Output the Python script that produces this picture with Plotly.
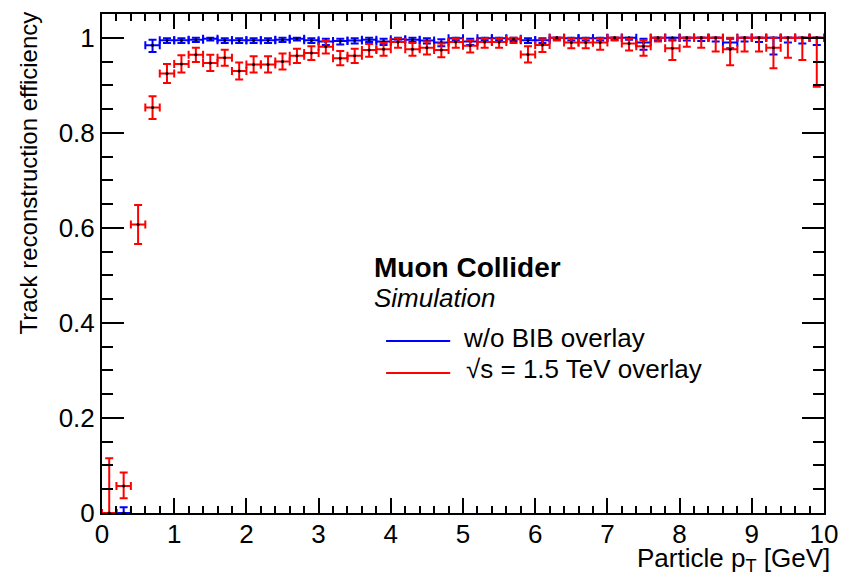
import plotly.graph_objects as go

# ---- data ----
pt_bins = [0.1, 0.3, 0.5, 0.7, 0.9, 1.1, 1.3, 1.5, 1.7, 1.9,
           2.1, 2.3, 2.5, 2.7, 2.9, 3.1, 3.3, 3.5, 3.7, 3.9,
           4.1, 4.3, 4.5, 4.7, 4.9, 5.1, 5.3, 5.5, 5.7, 5.9,
           6.1, 6.3, 6.5, 6.7, 6.9, 7.1, 7.3, 7.5, 7.7, 7.9,
           8.1, 8.3, 8.5, 8.7, 8.9, 9.1, 9.3, 9.5, 9.7, 9.9]
bin_half_width = [0.1] * 50

eff_bib = [0.0, 0.057, 0.607, 0.853, 0.925, 0.945, 0.964, 0.947, 0.958, 0.930,
           0.944, 0.944, 0.950, 0.962, 0.968, 0.981, 0.957, 0.962, 0.974, 0.976,
           0.991, 0.976, 0.979, 0.974, 0.991, 0.983, 0.991, 0.991, 0.997, 0.965,
           0.985, 1.0, 0.990, 0.990, 0.990, 1.0, 0.988, 0.982, 1.0, 0.978,
           1.0, 1.0, 1.0, 0.976, 1.0, 1.0, 0.979, 1.0, 1.0, 1.0]
err_bib_up = [0.115, 0.028, 0.041, 0.024, 0.020, 0.018, 0.015, 0.017, 0.017, 0.018,
              0.017, 0.017, 0.017, 0.015, 0.014, 0.012, 0.015, 0.015, 0.013, 0.013,
              0.008, 0.013, 0.013, 0.014, 0.008, 0.012, 0.008, 0.008, 0.003, 0.017,
              0.012, 0.0, 0.009, 0.009, 0.009, 0.0, 0.010, 0.013, 0.0, 0.018,
              0.0, 0.0, 0.0, 0.024, 0.0, 0.0, 0.021, 0.0, 0.0, 0.0]
err_bib_dn = [0.0, 0.026, 0.041, 0.024, 0.020, 0.018, 0.015, 0.017, 0.017, 0.018,
              0.017, 0.017, 0.017, 0.015, 0.015, 0.014, 0.015, 0.015, 0.014, 0.014,
              0.012, 0.014, 0.014, 0.015, 0.012, 0.014, 0.012, 0.012, 0.008, 0.017,
              0.015, 0.006, 0.012, 0.012, 0.015, 0.006, 0.015, 0.020, 0.008, 0.025,
              0.019, 0.021, 0.029, 0.034, 0.029, 0.029, 0.043, 0.042, 0.047, 0.103]

eff_nobib = [None, 0.0, None, 0.984, 0.995, 0.995, 0.996, 0.998, 0.995, 0.995,
             0.995, 0.995, 0.996, 0.998, 0.995, 0.992, 0.993, 0.994, 0.996, 0.992,
             0.997, 0.996, 0.994, 0.990, 0.999, 0.992, 0.999, 0.999, 0.998, 0.995,
             0.995, 1.0, 0.999, 0.999, 0.999, 1.0, 1.0, 0.990, 1.0, 1.0,
             1.0, 1.0, 1.0, 0.990, 1.0, 1.0, 1.0, 1.0, 1.0, 1.0]
err_nobib_up = [0, 0.012, 0, 0.012, 0.004, 0.004, 0.004, 0.002, 0.004, 0.004,
                0.004, 0.004, 0.004, 0.002, 0.004, 0.006, 0.005, 0.005, 0.004, 0.006,
                0.003, 0.004, 0.005, 0.007, 0.001, 0.006, 0.001, 0.001, 0.002, 0.004,
                0.004, 0.0, 0.001, 0.001, 0.001, 0.0, 0.0, 0.008, 0.0, 0.0,
                0.0, 0.0, 0.0, 0.008, 0.0, 0.0, 0.0, 0.0, 0.0, 0.0]
err_nobib_dn = [0, 0.0, 0, 0.014, 0.006, 0.006, 0.005, 0.004, 0.006, 0.006,
                0.006, 0.006, 0.005, 0.004, 0.006, 0.007, 0.007, 0.006, 0.005, 0.007,
                0.005, 0.005, 0.006, 0.008, 0.004, 0.007, 0.004, 0.004, 0.005, 0.006,
                0.006, 0.004, 0.005, 0.005, 0.005, 0.004, 0.004, 0.015, 0.005, 0.006,
                0.006, 0.007, 0.008, 0.012, 0.008, 0.009, 0.035, 0.010, 0.012, 0.015]

series_names = ["w/o BIB overlay", "\u221As = 1.5 TeV overlay"]
series_colors = ["#0000ff", "#ff0000"]

FONT = "Liberation Sans, Arial, Helvetica, sans-serif"

fig = go.Figure()


def add_series(y, up, dn, color, name):
    fig.add_trace(go.Scatter(
        x=pt_bins, y=y, mode="markers", name=name, showlegend=False,
        marker=dict(color="black", size=3, symbol="circle"),
        error_y=dict(type="data", symmetric=False, array=up, arrayminus=dn,
                     color=color, thickness=2, width=4),
        error_x=dict(type="data", array=bin_half_width, color=color,
                     thickness=2, width=4),
        cliponaxis=False,
    ))


add_series(eff_nobib, err_nobib_up, err_nobib_dn, series_colors[0], series_names[0])
add_series(eff_bib, err_bib_up, err_bib_dn, series_colors[1], series_names[1])

# plot geometry (pixels)
L, R, T, B = 102, 834, 14, 513
W, H = 850, 576


def px(xp):
    return (xp - L) / (R - L)


def py(yp):
    return (B - yp) / (B - T)


fig.update_layout(
    width=W, height=H,
    margin=dict(l=L, r=W - R, t=T, b=H - B),
    paper_bgcolor="white", plot_bgcolor="white",
    font=dict(family=FONT, size=26, color="black"),
    showlegend=False,
)

fig.update_xaxes(
    range=[0, 10], dtick=1, tick0=0,
    showgrid=False, zeroline=False,
    showline=True, linecolor="black", linewidth=2, mirror="ticks",
    ticks="inside", ticklen=15, tickwidth=1.5, tickcolor="black",
    minor=dict(dtick=0.2, ticks="inside", ticklen=7, tickwidth=1.5,
               tickcolor="black", showgrid=False),
    tickfont=dict(size=26),
    ticklabelstandoff=-3,
)
fig.update_yaxes(
    range=[0, 1.05], dtick=0.2, tick0=0,
    showgrid=False, zeroline=False,
    showline=True, linecolor="black", linewidth=2, mirror="ticks",
    ticks="inside", ticklen=22, tickwidth=1.5, tickcolor="black",
    minor=dict(dtick=0.05, ticks="inside", ticklen=11, tickwidth=1.5,
               tickcolor="black", showgrid=False),
    tickfont=dict(size=26),
)

annotations = [
    # axis titles
    dict(text="Particle p<sub>T</sub> [GeV]", x=px(842), y=py(541),
         xref="paper", yref="paper", xanchor="right", yanchor="top",
         showarrow=False, font=dict(size=26)),
    dict(text="Track reconstruction efficiency", x=px(27), y=py(10),
         xref="paper", yref="paper", xanchor="center", yanchor="top",
         textangle=-90, showarrow=False, font=dict(size=24)),
    # labels
    dict(text="<b>Muon Collider</b>", x=px(376), y=py(267),
         xref="paper", yref="paper", xanchor="left", yanchor="middle",
         showarrow=False, font=dict(size=28)),
    dict(text="<i>Simulation</i>", x=px(376), y=py(298),
         xref="paper", yref="paper", xanchor="left", yanchor="middle",
         showarrow=False, font=dict(size=26)),
    dict(text=series_names[0], x=px(466), y=py(338),
         xref="paper", yref="paper", xanchor="left", yanchor="middle",
         showarrow=False, font=dict(size=26)),
    dict(text=series_names[1], x=px(469), y=py(369),
         xref="paper", yref="paper", xanchor="left", yanchor="middle",
         showarrow=False, font=dict(size=26)),
]
fig.update_layout(annotations=annotations)

shapes = [
    dict(type="line", xref="paper", yref="paper", x0=px(390), x1=px(455),
         y0=py(341), y1=py(341), line=dict(color=series_colors[0], width=2)),
    dict(type="line", xref="paper", yref="paper", x0=px(390), x1=px(455),
         y0=py(373), y1=py(373), line=dict(color=series_colors[1], width=2)),
]
fig.update_layout(shapes=shapes)

fig.write_html("out.html")
